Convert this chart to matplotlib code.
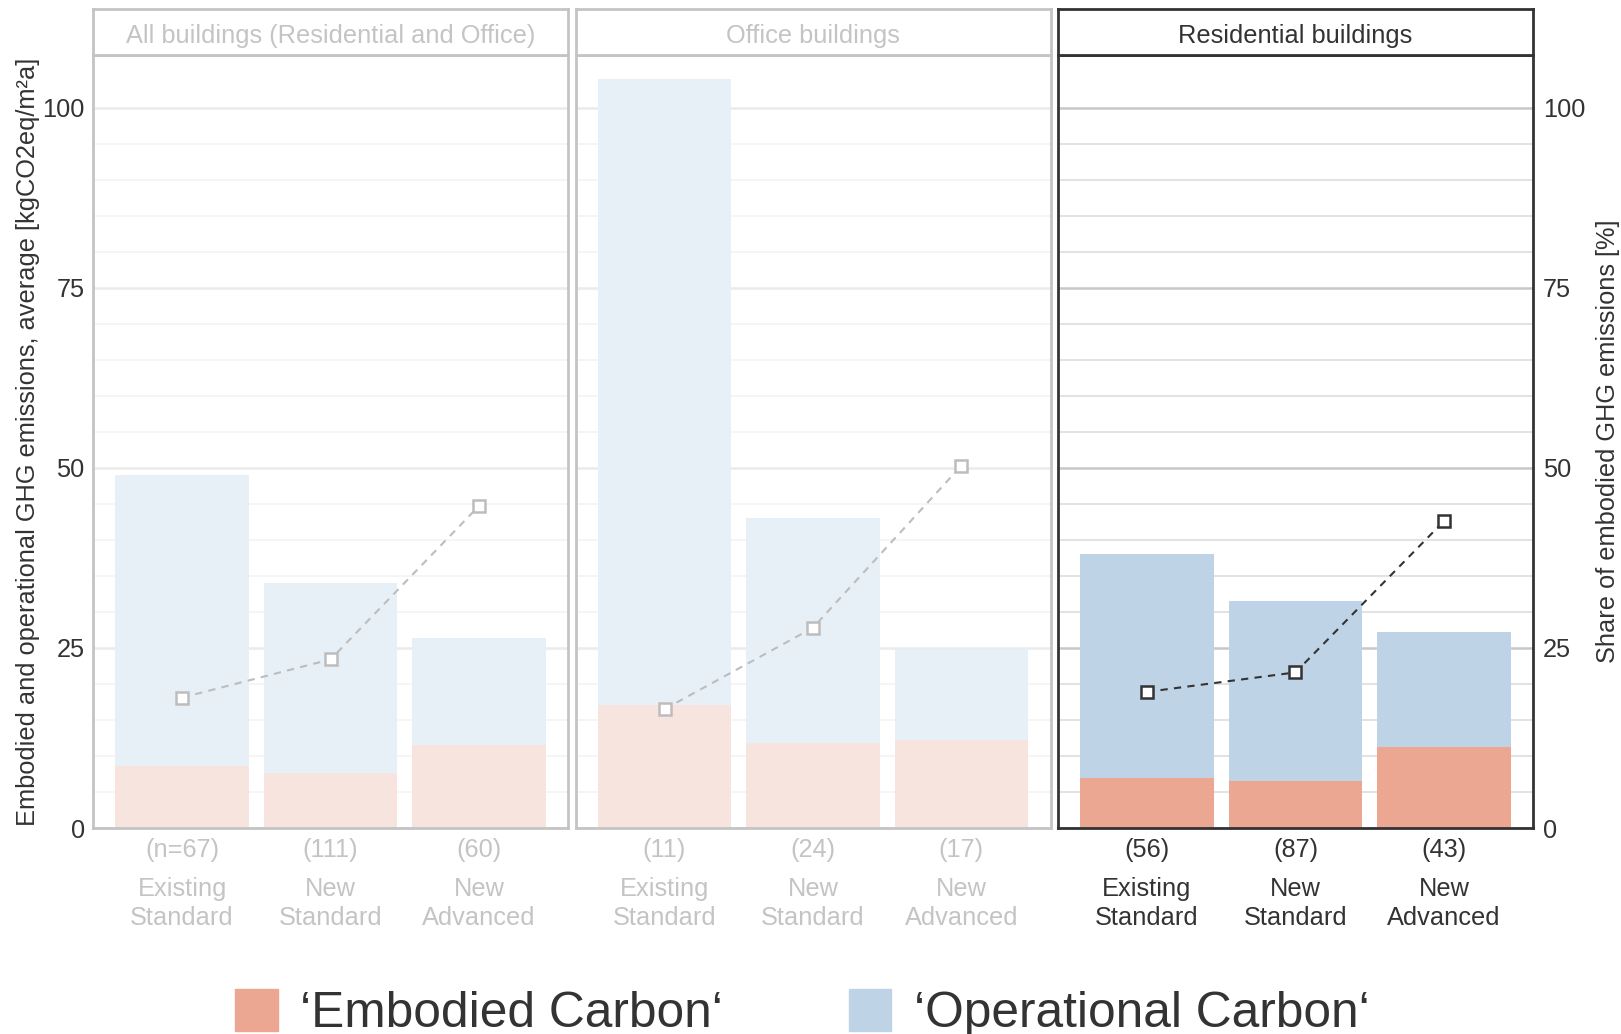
import numpy as np
import matplotlib.pyplot as plt
from matplotlib.patches import Patch

plt.rcParams['font.family'] = ['Liberation Sans', 'DejaVu Sans']

panels = ["All buildings (Residential and Office)", "Office buildings", "Residential buildings"]
categories = ["Existing\nStandard", "New\nStandard", "New\nAdvanced"]
counts = [["(n=67)", "(111)", "(60)"],
          ["(11)", "(24)", "(17)"],
          ["(56)", "(87)", "(43)"]]
# average emissions, kgCO2eq/m2a
embodied = [[8.6, 7.6, 11.5],
            [17.1, 11.8, 12.2],
            [7.0, 6.5, 11.2]]
operational = [[40.4, 26.4, 14.9],
               [86.9, 31.3, 12.6],
               [31.1, 25.0, 16.0]]
# share of embodied emissions, %
share = [[18.1, 23.4, 44.7],
         [16.5, 27.8, 50.3],
         [18.9, 21.6, 42.6]]
highlight = 2

emb_col = '#EBA792'
op_col = '#BFD3E6'
emb_faded = '#F8E4DE'
op_faded = '#E8F0F7'
dark = '#333333'
faded = '#C4C4C4'

fig = plt.figure(figsize=(16.21, 10.34), dpi=100)
left0 = 93 / 1621
w = 475 / 1621
gap = 7.5 / 1621
bottom = 1 - 828 / 1034
top = 1 - 55 / 1034
strip_top = 1 - 8.5 / 1034
ymax = 107.3
x = np.arange(1, 4)

for i, title in enumerate(panels):
    active = i == highlight
    fg = dark if active else faded
    x0 = left0 + i * (w + gap)

    ax = fig.add_axes([x0, bottom, w, top - bottom])
    ax.bar(x, embodied[i], width=0.9, color=emb_col if active else emb_faded, zorder=2)
    ax.bar(x, operational[i], bottom=embodied[i], width=0.9,
           color=op_col if active else op_faded, zorder=2)
    ax.set_xlim(0.4, 3.6)
    ax.set_ylim(0, ymax)
    ax.set_yticks([0, 25, 50, 75, 100])
    ax.set_yticks(np.arange(5, 105, 5), minor=True)
    ax.grid(which='major', axis='y', color='#C8C8C8' if active else '#EBEBEB', lw=1.8, zorder=0)
    ax.grid(which='minor', axis='y', color='#DADADA' if active else '#F3F3F3', lw=1.1, zorder=0)
    ax.set_axisbelow(True)
    ax.tick_params(which='both', length=0)
    ax.set_xticks(x)
    ax.set_xticklabels(categories, fontsize=18.3, color=fg, linespacing=1.28)
    ax.tick_params(axis='x', pad=35)
    if i == 0:
        ax.tick_params(axis='y', labelsize=18.3, labelcolor=dark, pad=6)
    else:
        ax.set_yticklabels([])
    for s in ax.spines.values():
        s.set_color(fg)
        s.set_linewidth(2)
    for xi, n in zip(x, counts[i]):
        ax.annotate(n, xy=(xi, 0), xycoords=('data', 'axes fraction'),
                    xytext=(0, -16), textcoords='offset points',
                    ha='center', va='center', fontsize=18.3, color=fg)

    # share of embodied emissions on secondary scale
    tw = ax.twinx()
    tw.plot(x, share[i], ls=(0, (3.5, 3)), lw=1.5, color=dark if active else '#BDBDBD',
            marker='s', ms=8, mfc='white', mec=dark if active else '#BDBDBD', mew=1.8)
    tw.set_ylim(0, ymax)
    tw.set_yticks([0, 25, 50, 75, 100])
    tw.tick_params(length=0)
    for s in tw.spines.values():
        s.set_visible(False)
    if active:
        tw.tick_params(axis='y', labelsize=18.3, labelcolor=dark, pad=7)
    else:
        tw.set_yticklabels([])

    # facet strip
    sax = fig.add_axes([x0, top, w, strip_top - top])
    sax.set_xticks([])
    sax.set_yticks([])
    for s in sax.spines.values():
        s.set_color(fg)
        s.set_linewidth(2)
    sax.text(0.5, 0.4, title, ha='center', va='center', fontsize=18.3, color=fg,
             transform=sax.transAxes)

fig.text(28 / 1621, (bottom + top) / 2,
         "Embodied and operational GHG emissions, average [kgCO2eq/m²a]",
         rotation=90, ha='center', va='center', fontsize=18.3, color=dark)
fig.text(1608 / 1621, (bottom + top) / 2, "Share of embodied GHG emissions [%]",
         rotation=90, ha='center', va='center', fontsize=18.3, color=dark)

handles = [Patch(color=emb_col, label='\u2018Embodied Carbon\u2018'),
           Patch(color=op_col, label='\u2018Operational Carbon\u2018')]
leg = fig.legend(handles=handles, loc='center', bbox_to_anchor=(0.495, 0.02), ncol=2,
                 frameon=False, fontsize=35.7, handlelength=0.85, handleheight=0.9,
                 handletextpad=0.45, columnspacing=2.55)
for t in leg.get_texts():
    t.set_color(dark)

fig.savefig('out.png', dpi=100)
